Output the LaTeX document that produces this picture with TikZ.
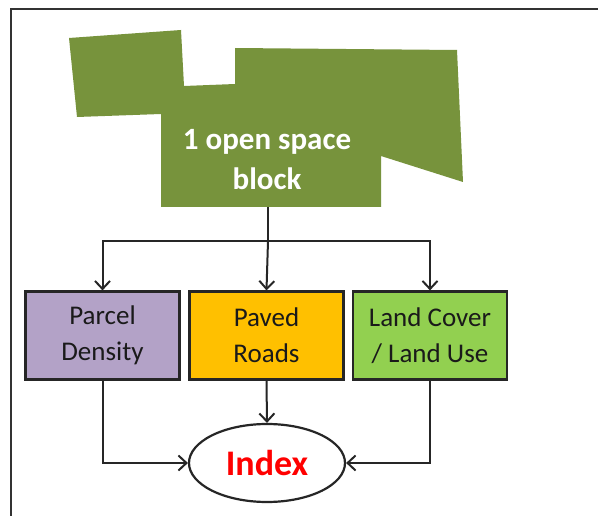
\documentclass[tikz,border=0pt]{standalone}
\usepackage{fontspec}
\setmainfont{Carlito}
\usetikzlibrary{arrows.meta,shapes.geometric}
\definecolor{olive}{HTML}{77933C}
\definecolor{lav}{HTML}{B3A2C7}
\definecolor{amber}{HTML}{FFC000}
\definecolor{lgreen}{HTML}{92D050}
\definecolor{txt}{HTML}{1A1A1A}
\tikzset{
  box/.style={draw=black!85, line width=2.2pt, minimum width=154pt, minimum height=88pt,
    align=center, font=\fontsize{27}{36}\selectfont, text=txt, inner sep=0pt},
  conn/.style={line width=2pt, draw=black!85},
  arr/.style={conn, -{Straight Barb[length=8pt,width=15pt,line width=2pt]}},
}
\begin{document}
\begin{tikzpicture}[x=1pt,y=-1pt]
\useasboundingbox (0,0) rectangle (598,516);
\fill[white] (0,0) rectangle (598,516);
% frame
\draw[line width=2.2pt, black!80] (11,517) -- (11,9) -- (599,9);
% open space block polygon
\fill[olive] (69,38) -- (181,30) -- (184,86) -- (235,84) -- (235,48) -- (457,50)
  -- (463,182) -- (381,156) -- (381,207) -- (161,207) -- (161,114) -- (77,117) -- cycle;
\node[text=white, font=\bfseries\fontsize{31}{40}\selectfont, align=center] (osb) at (267,160) {1 open space\\block};
\coordinate (osbb) at (268,207);
\coordinate (split) at (268,241);
% boxes
\node[box, fill=lav] (pd) at (102.5,335.5) {Parcel\\Density};
\node[box, fill=amber] (pr) at (266.5,335.5) {Paved\\Roads};
\node[box, fill=lgreen] (lc) at (430,335.5) {Land Cover\\/ Land Use};
% index
\node[ellipse, draw=black!85, line width=2.2pt, fill=white, minimum width=156pt, minimum height=78pt,
  inner sep=0pt, text=red, font=\bfseries\fontsize{36}{40}\selectfont] (idx) at (267,463) {Index};
% connectors
\draw[conn] (osbb) -- (split);
\draw[arr] (split) -| (pd.north);
\draw[arr] (split) -- (pr.north);
\draw[arr] (split) -| (lc.north);
\draw[arr] (pd.south) |- (idx.west);
\draw[arr] (pr.south) -- (idx.north);
\draw[arr] (lc.south) |- (idx.east);
\end{tikzpicture}
\end{document}
